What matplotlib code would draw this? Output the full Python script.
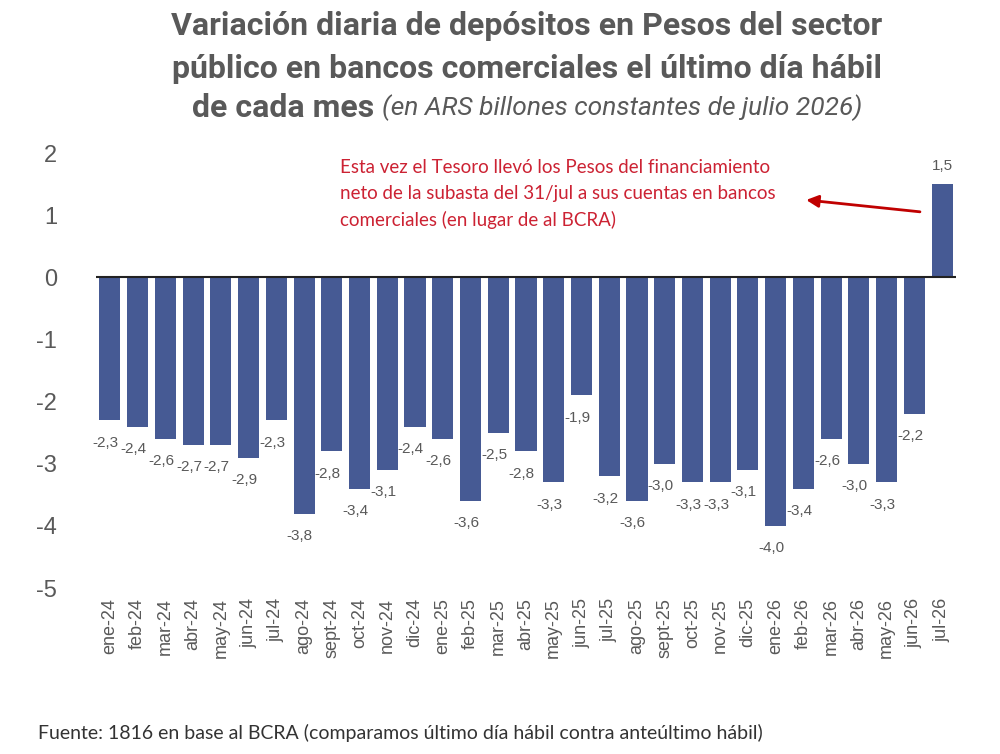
import numpy as np
import matplotlib
matplotlib.use("Agg")
import matplotlib.pyplot as plt

# datos (en ARS billones constantes de julio 2026)
meses = ["ene-24", "feb-24", "mar-24", "abr-24", "may-24", "jun-24", "jul-24",
         "ago-24", "sept-24", "oct-24", "nov-24", "dic-24", "ene-25", "feb-25",
         "mar-25", "abr-25", "may-25", "jun-25", "jul-25", "ago-25", "sept-25",
         "oct-25", "nov-25", "dic-25", "ene-26", "feb-26", "mar-26", "abr-26",
         "may-26", "jun-26", "jul-26"]
variacion = [-2.3, -2.4, -2.6, -2.7, -2.7, -2.9, -2.3, -3.8, -2.8, -3.4, -3.1,
             -2.4, -2.6, -3.6, -2.5, -2.8, -3.3, -1.9, -3.2, -3.6, -3.0, -3.3,
             -3.3, -3.1, -4.0, -3.4, -2.6, -3.0, -3.3, -2.2, 1.5]
yticks = [2, 1, 0, -1, -2, -3, -4, -5]

color_barra = "#465a94"
gris = "#595959"
rojo = "#cc2233"

fig = plt.figure(figsize=(10, 7.54), dpi=100)
ax = fig.add_axes([0.096, 0.220, 0.860, 0.577])

x = np.arange(len(meses))
ax.bar(x, variacion, width=0.76, color=color_barra, zorder=2)
ax.axhline(0, color="#222222", lw=1.5, zorder=3)

ax.set_xlim(-0.5, len(meses) - 0.5)
ax.set_ylim(-5, 2)
ax.set_yticks(yticks)
ax.set_yticklabels([str(t) for t in yticks], fontsize=17, color=gris,
                   family="Liberation Sans")
ax.set_xticks(x)
ax.set_xticklabels(meses, rotation=90, fontsize=13, color=gris,
                   family="Liberation Sans")
ax.tick_params(axis="both", length=0)
ax.tick_params(axis="x", pad=7)
ax.tick_params(axis="y", pad=28)
for s in ax.spines.values():
    s.set_visible(False)

# etiquetas de valores
for xi, v in zip(x, variacion):
    txt = f"{v:.1f}".replace(".", ",")
    if v < 0:
        ax.annotate(txt, (xi, v), xytext=(-3, -11), textcoords="offset points",
                    ha="center", va="top", fontsize=11, color=gris,
                    family="Liberation Sans")
    else:
        ax.annotate(txt, (xi, v), xytext=(0, 8), textcoords="offset points",
                    ha="center", va="bottom", fontsize=11, color=gris,
                    family="Liberation Sans")

# anotación
ax.text(8.3, 1.9, "Esta vez el Tesoro llevó los Pesos del financiamiento\n"
        "neto de la subasta del 31/jul a sus cuentas en bancos\n"
        "comerciales (en lugar de al BCRA)",
        ha="left", va="top", fontsize=13.5, color=rojo, family="Lato",
        linespacing=1.6)
ax.annotate("", xy=(25.0, 1.25), xytext=(29.3, 1.05),
            arrowprops=dict(arrowstyle="-|>", color="#c00000", lw=2,
                            mutation_scale=18))

# título
fig.text(0.527, 0.965, "Variación diaria de depósitos en Pesos del sector",
         ha="center", va="center", fontsize=23, fontweight="bold",
         color=gris, family="Roboto")
fig.text(0.527, 0.909, "público en bancos comerciales el último día hábil",
         ha="center", va="center", fontsize=23, fontweight="bold",
         color=gris, family="Roboto")
t1 = fig.text(0.0, 0.857, "de cada mes ", ha="left", va="center", fontsize=23,
              fontweight="bold", color=gris, family="Roboto")
t2 = fig.text(0.0, 0.857, "(en ARS billones constantes de julio 2026)",
              ha="left", va="center", fontsize=19, fontstyle="italic",
              color=gris, family="Roboto")
fig.canvas.draw()
r = fig.canvas.get_renderer()
w1 = t1.get_window_extent(r).width / fig.bbox.width
w2 = t2.get_window_extent(r).width / fig.bbox.width
x0 = 0.527 - (w1 + w2) / 2
t1.set_x(x0)
t2.set_x(x0 + w1)

fig.text(0.038, 0.028, "Fuente: 1816 en base al BCRA (comparamos último día hábil contra anteúltimo hábil)",
         ha="left", va="center", fontsize=14, color="#333333", family="Lato")

fig.savefig("out.png", dpi=100, facecolor="white")
